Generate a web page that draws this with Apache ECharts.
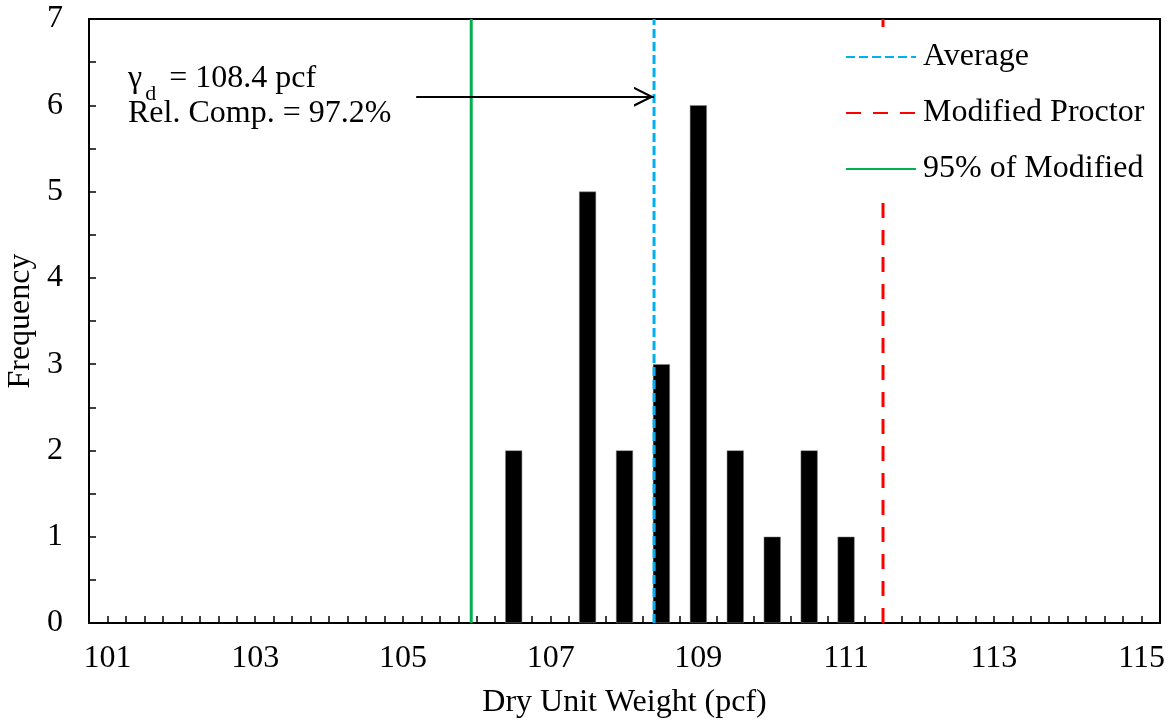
<!DOCTYPE html>
<html>
<head>
<meta charset="utf-8">
<script src="https://cdn.jsdelivr.net/npm/echarts@6/dist/echarts.min.js"></script>
<style>html,body{margin:0;padding:0;background:#fff}#c{width:1174px;height:728px}</style>
</head>
<body>
<div id="c"></div>
<script>
// Data
const binCenters = [106.5, 107.5, 108, 108.5, 109, 109.5, 110, 110.5, 111];
const frequencies = [2, 5, 2, 3, 6, 2, 1, 2, 1];
const averageValue = 108.4;
const modifiedProctor = 111.5;
const pct95 = 105.925;
const relComp = 97.2;
const xTickLabels = [101, 103, 105, 107, 109, 111, 113, 115];
const yTickLabels = [0, 1, 2, 3, 4, 5, 6, 7];
const seriesNames = ['Average', 'Modified Proctor', '95% of Modified'];
const arrowStartX = 105.18;
const arrowY = 6.1;

const FONT = "'Liberation Serif','Times New Roman',serif";
const FS = 32;
const chart = echarts.init(document.getElementById('c'), null, {renderer: 'canvas'});

const barData = binCenters.map((x, i) => [x, frequencies[i]]);
const vline = v => [[v, 0], [v, 7]];

chart.setOption({
  animation: false,
  backgroundColor: '#fff',
  grid: {left: 89, right: 14, top: 19, bottom: 105, show: true, borderColor: '#000', borderWidth: 2,
         containLabel: false, outerBoundsMode: 'none'},
  xAxis: {
    type: 'value', min: 100.75, max: 115.25, interval: 0.25,
    name: 'Dry Unit Weight (pcf)', nameLocation: 'middle', nameGap: 64,
    nameTextStyle: {fontFamily: FONT, fontSize: FS, color: '#000'},
    axisLine: {show: true, lineStyle: {color: '#000', width: 2}},
    axisTick: {show: true, inside: true, length: 7, lineStyle: {color: '#000', width: 1.5}},
    axisLabel: {
      fontFamily: FONT, fontSize: FS, color: '#000', margin: 20, showMinLabel: true, showMaxLabel: true,
      formatter: v => xTickLabels.some(t => Math.abs(t - v) < 1e-6) ? String(Math.round(v)) : ''
    },
    splitLine: {show: false}
  },
  yAxis: {
    type: 'value', min: 0, max: 7, interval: 0.5,
    name: 'Frequency', nameLocation: 'middle', nameGap: 51,
    nameTextStyle: {fontFamily: FONT, fontSize: FS, color: '#000'},
    axisLine: {show: true, lineStyle: {color: '#000', width: 2}},
    axisTick: {show: true, inside: true, length: 7, lineStyle: {color: '#000', width: 1.5}},
    axisLabel: {
      fontFamily: FONT, fontSize: FS, color: '#000', margin: 26,
      formatter: v => yTickLabels.some(t => Math.abs(t - v) < 1e-6) ? String(Math.round(v)) : ''
    },
    splitLine: {show: false}
  },
  legend: {
    data: seriesNames,
    orient: 'vertical', left: 835, top: 27,
    backgroundColor: '#fff',
    padding: [14, 10, 13, 10],
    itemWidth: 70, itemHeight: 14, itemGap: 24,
    itemStyle: {opacity: 0},
    textStyle: {fontFamily: FONT, fontSize: FS, color: '#000', padding: [0, 0, 0, 2]},
    z: 10
  },
  series: [
    {
      type: 'bar', name: 'Frequency', data: barData, barWidth: 17,
      itemStyle: {color: '#000', borderColor: '#888', borderWidth: 0.5}, z: 2
    },
    {
      type: 'line', name: seriesNames[0], data: vline(averageValue), symbol: 'none',
      itemStyle: {color: '#00B0F0'},
      lineStyle: {color: '#00B0F0', width: 3, type: [9, 4]}, z: 4
    },
    {
      type: 'line', name: seriesNames[1], data: vline(modifiedProctor), symbol: 'none',
      itemStyle: {color: '#FF0000'},
      lineStyle: {color: '#FF0000', width: 3, type: [15, 12]}, z: 4
    },
    {
      type: 'line', name: seriesNames[2], data: vline(pct95), symbol: 'none',
      itemStyle: {color: '#00B050'},
      lineStyle: {color: '#00B050', width: 3, type: 'solid'}, z: 4,
      markLine: {
        silent: true, animation: false,
        symbol: ['none', 'path://M10,-20 L10.01,-20 L10,-19.99 Z M0,20 L10,0 L20,20 L17.6,20 L10,4.8 L2.4,20 Z'],
        symbolSize: [20, 40],
        lineStyle: {color: '#000', width: 2, type: 'solid'},
        label: {show: false},
        data: [[{coord: [arrowStartX, arrowY]}, {coord: [averageValue, arrowY]}]]
      }
    }
  ],
  graphic: [
    {
      type: 'text', left: 128, top: 63, z: 20,
      style: {
        text: '{g|γ}{s|d}{g| = ' + averageValue.toFixed(1) + ' pcf}\n{g|Rel. Comp. = ' + relComp.toFixed(1) + '%}',
        rich: {
          g: {fontFamily: FONT, fontSize: FS, fill: '#000', lineHeight: 35},
          s: {fontFamily: FONT, fontSize: 22, fill: '#000', verticalAlign: 'bottom', lineHeight: 35, padding: [0, 5, -9, 3]}
        }
      }
    }
  ]
});
</script>
</body>
</html>
